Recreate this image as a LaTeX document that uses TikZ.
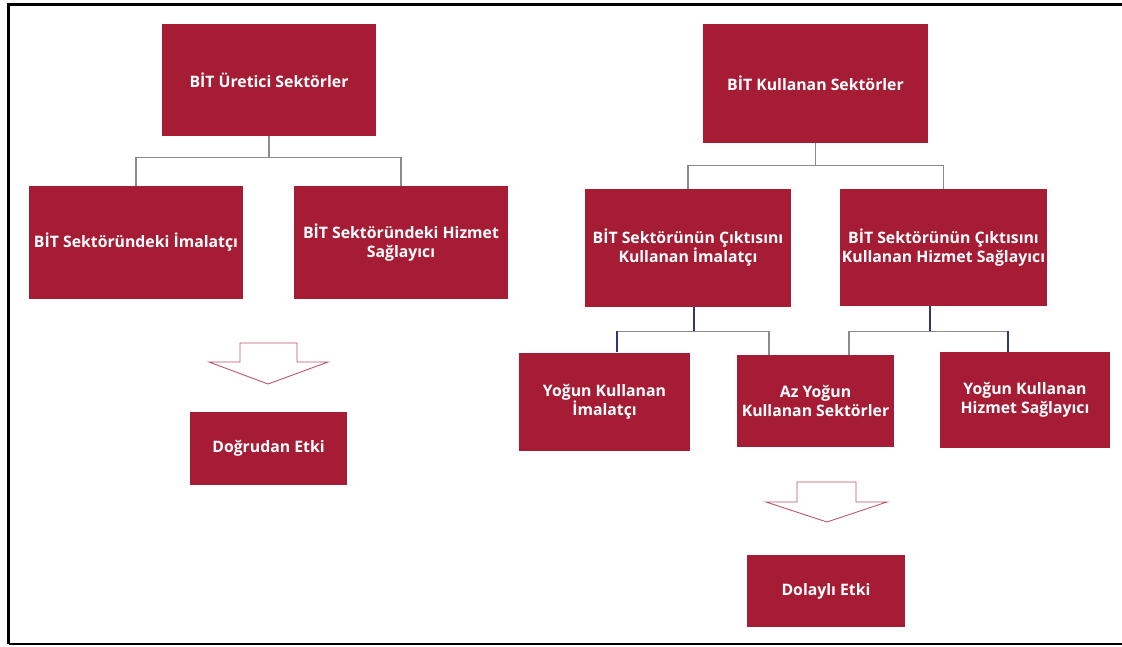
\documentclass[tikz,border=0pt]{standalone}
\usepackage{fontspec}
\setmainfont{Open Sans}
\definecolor{bitred}{RGB}{166,28,52}
\definecolor{linkgray}{RGB}{140,140,140}
\definecolor{linknavy}{RGB}{45,55,115}
\begin{document}
\begin{tikzpicture}[x=1pt,y=-1pt,
  box/.style={fill=bitred, text=white, align=center, inner sep=1pt,
    font=\bfseries\fontsize{15.8}{19}\selectfont},
  link/.style={draw=linkgray, line width=1.1pt},
  stem/.style={draw=linknavy, line width=1.1pt},
  hollow/.style={draw=bitred!75, line width=0.9pt, line join=miter}]
  \useasboundingbox (0,0) rectangle (1122,646);
  \draw[line width=3.2pt] (1122,4.5) -- (8.5,4.5) -- (8.5,644);
  \draw[line width=2.2pt] (8.5,644) -- (1122,644);
  \node[box, minimum width=214, minimum height=112] (uretici) at (269,80) {BİT Üretici Sektörler};
  \node[box, minimum width=214, minimum height=113] (imalatci) at (136,242.5) {BİT Sektöründeki İmalatçı};
  \node[box, minimum width=214, minimum height=113] (hizmet) at (401,242.5) {BİT Sektöründeki Hizmet\\Sağlayıcı};
  \node[box, minimum width=157, minimum height=73] (dogrudan) at (268.5,448.5) {Doğrudan Etki};
  \node[box, minimum width=225, minimum height=119] (kullanan) at (815.5,83.5) {BİT Kullanan Sektörler};
  \node[box, minimum width=206, minimum height=118] (cikti1) at (688,248) {BİT Sektörünün Çıktısını\\Kullanan İmalatçı};
  \node[box, minimum width=207, minimum height=117] (cikti2) at (943.5,247.5) {BİT Sektörünün Çıktısını\\Kullanan Hizmet Sağlayıcı};
  \node[box, minimum width=171, minimum height=98] (yogun1) at (604.5,401.5) {Yoğun Kullanan\\İmalatçı};
  \node[box, minimum width=157, minimum height=92] (azyogun) at (815.5,401) {Az Yoğun\\Kullanan Sektörler};
  \node[box, minimum width=170, minimum height=96] (yogun2) at (1025,400) {Yoğun Kullanan\\Hizmet Sağlayıcı};
  \node[box, minimum width=158, minimum height=72] (dolayli) at (826,591) {Dolaylı Etki};
  \draw[link] (uretici.south) -- ++(0,21) -| (imalatci.north);
  \draw[link] (uretici.south) ++(0,21) -| (hizmet.north);
  \draw[link] (kullanan.south) -- ++(0,22) -| (cikti1.north);
  \draw[link] (kullanan.south) ++(0,22) -| (cikti2.north);
  \draw[link] ([xshift=6pt]cikti1.south) ++(0,24) coordinate (c1) -| ([xshift=12.5pt]yogun1.north);
  \draw[link] (c1) -| ([xshift=-46.5pt]azyogun.north);
  \draw[stem] ([xshift=6pt]cikti1.south) -- (c1);
  \draw[stem] (c1) ++(-77,0) -- ([xshift=12.5pt]yogun1.north);
  \draw[link] ([xshift=-13.5pt]cikti2.south) ++(0,25) coordinate (c2) -| ([xshift=33.5pt]azyogun.north);
  \draw[link] (c2) -| ([xshift=-17pt]yogun2.north);
  \draw[stem] ([xshift=-13.5pt]cikti2.south) -- (c2);
  \draw[stem] (c2) ++(78,0) -- ([xshift=-17pt]yogun2.north);
  \draw[hollow] (240,343) -- (297,343) -- (297,362) -- (328,362) -- (268,384) -- (209,362) -- (240,362) -- cycle;
  \draw[hollow] (797,482) -- (856,482) -- (856,502) -- (887,502) -- (827,522) -- (766,502) -- (797,502) -- cycle;
\end{tikzpicture}
\end{document}
